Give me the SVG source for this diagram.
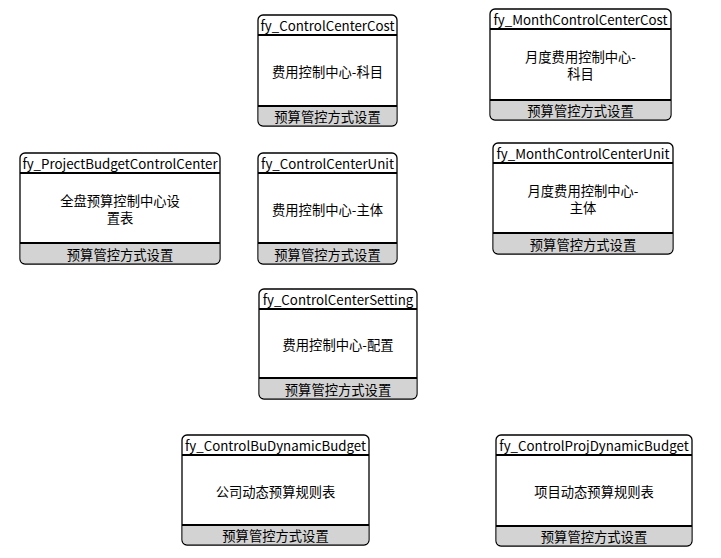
<svg xmlns="http://www.w3.org/2000/svg" width="721" height="558" viewBox="0 0 721 558">
<style>
.box{fill:#fff;stroke:#000;stroke-width:1.3}
.foot{fill:#d3d3d3;stroke:none}
.sep{stroke:#000;stroke-width:2}
text{font-family:"Noto Sans CJK SC","Noto Sans",sans-serif;font-size:13.3px;fill:#000;text-anchor:middle;dominant-baseline:central}
</style>
<rect width="721" height="558" fill="#fff"/>
<g id="connectors"></g>
<g id="fy_ControlCenterCost">
<rect class="box" x="258" y="15" width="139" height="111" rx="5"/>
<path class="foot" d="M258.7 106H396.3V121A4.3 4.3 0 0 1 392 125.3H263A4.3 4.3 0 0 1 258.7 121Z"/>
<line class="sep" x1="258" y1="35" x2="397" y2="35"/><line class="sep" x1="258" y1="106" x2="397" y2="106"/>
<text x="327.5" y="25">fy_ControlCenterCost</text>
<text x="327.5" y="71">费用控制中心-科目</text>
<text x="327.5" y="116">预算管控方式设置</text>
</g>
<g id="fy_MonthControlCenterCost">
<rect class="box" x="490" y="9" width="181" height="111" rx="5"/>
<path class="foot" d="M490.7 100H670.3V115A4.3 4.3 0 0 1 666 119.3H495A4.3 4.3 0 0 1 490.7 115Z"/>
<line class="sep" x1="490" y1="29" x2="671" y2="29"/><line class="sep" x1="490" y1="100" x2="671" y2="100"/>
<text x="580.5" y="19">fy_MonthControlCenterCost</text>
<text x="580.5" y="56">月度费用控制中心-</text>
<text x="580.5" y="73.5">科目</text>
<text x="580.5" y="110">预算管控方式设置</text>
</g>
<g id="fy_ProjectBudgetControlCenter">
<rect class="box" x="20" y="153" width="200" height="111" rx="5"/>
<path class="foot" d="M20.7 243H219.3V259A4.3 4.3 0 0 1 215 263.3H25A4.3 4.3 0 0 1 20.7 259Z"/>
<line class="sep" x1="20" y1="173" x2="220" y2="173"/><line class="sep" x1="20" y1="243" x2="220" y2="243"/>
<text x="120" y="163">fy_ProjectBudgetControlCenter</text>
<text x="120" y="200">全盘预算控制中心设</text>
<text x="120" y="217.5">置表</text>
<text x="120" y="254">预算管控方式设置</text>
</g>
<g id="fy_ControlCenterUnit">
<rect class="box" x="258" y="153" width="139" height="111" rx="5"/>
<path class="foot" d="M258.7 243H396.3V259A4.3 4.3 0 0 1 392 263.3H263A4.3 4.3 0 0 1 258.7 259Z"/>
<line class="sep" x1="258" y1="173" x2="397" y2="173"/><line class="sep" x1="258" y1="243" x2="397" y2="243"/>
<text x="327.5" y="163">fy_ControlCenterUnit</text>
<text x="327.5" y="209">费用控制中心-主体</text>
<text x="327.5" y="254">预算管控方式设置</text>
</g>
<g id="fy_MonthControlCenterUnit">
<rect class="box" x="493" y="143" width="180" height="111" rx="5"/>
<path class="foot" d="M493.7 233H672.3V249A4.3 4.3 0 0 1 668 253.3H498A4.3 4.3 0 0 1 493.7 249Z"/>
<line class="sep" x1="493" y1="163" x2="673" y2="163"/><line class="sep" x1="493" y1="233" x2="673" y2="233"/>
<text x="583" y="153">fy_MonthControlCenterUnit</text>
<text x="583" y="190">月度费用控制中心-</text>
<text x="583" y="207.5">主体</text>
<text x="583" y="244">预算管控方式设置</text>
</g>
<g id="fy_ControlCenterSetting">
<rect class="box" x="259" y="289" width="158" height="110" rx="5"/>
<path class="foot" d="M259.7 378H416.3V394A4.3 4.3 0 0 1 412 398.3H264A4.3 4.3 0 0 1 259.7 394Z"/>
<line class="sep" x1="259" y1="309" x2="417" y2="309"/><line class="sep" x1="259" y1="378" x2="417" y2="378"/>
<text x="338" y="299">fy_ControlCenterSetting</text>
<text x="338" y="344">费用控制中心-配置</text>
<text x="338" y="389">预算管控方式设置</text>
</g>
<g id="fy_ControlBuDynamicBudget">
<rect class="box" x="182" y="435" width="187" height="110" rx="5"/>
<path class="foot" d="M182.7 525H368.3V540A4.3 4.3 0 0 1 364 544.3H187A4.3 4.3 0 0 1 182.7 540Z"/>
<line class="sep" x1="182" y1="455" x2="369" y2="455"/><line class="sep" x1="182" y1="525" x2="369" y2="525"/>
<text x="275.5" y="445">fy_ControlBuDynamicBudget</text>
<text x="275.5" y="491">公司动态预算规则表</text>
<text x="275.5" y="535">预算管控方式设置</text>
</g>
<g id="fy_ControlProjDynamicBudget">
<rect class="box" x="496" y="435" width="196" height="111" rx="5"/>
<path class="foot" d="M496.7 526H691.3V541A4.3 4.3 0 0 1 687 545.3H501A4.3 4.3 0 0 1 496.7 541Z"/>
<line class="sep" x1="496" y1="455" x2="692" y2="455"/><line class="sep" x1="496" y1="526" x2="692" y2="526"/>
<text x="594" y="445">fy_ControlProjDynamicBudget</text>
<text x="594" y="491">项目动态预算规则表</text>
<text x="594" y="536">预算管控方式设置</text>
</g>
</svg>
